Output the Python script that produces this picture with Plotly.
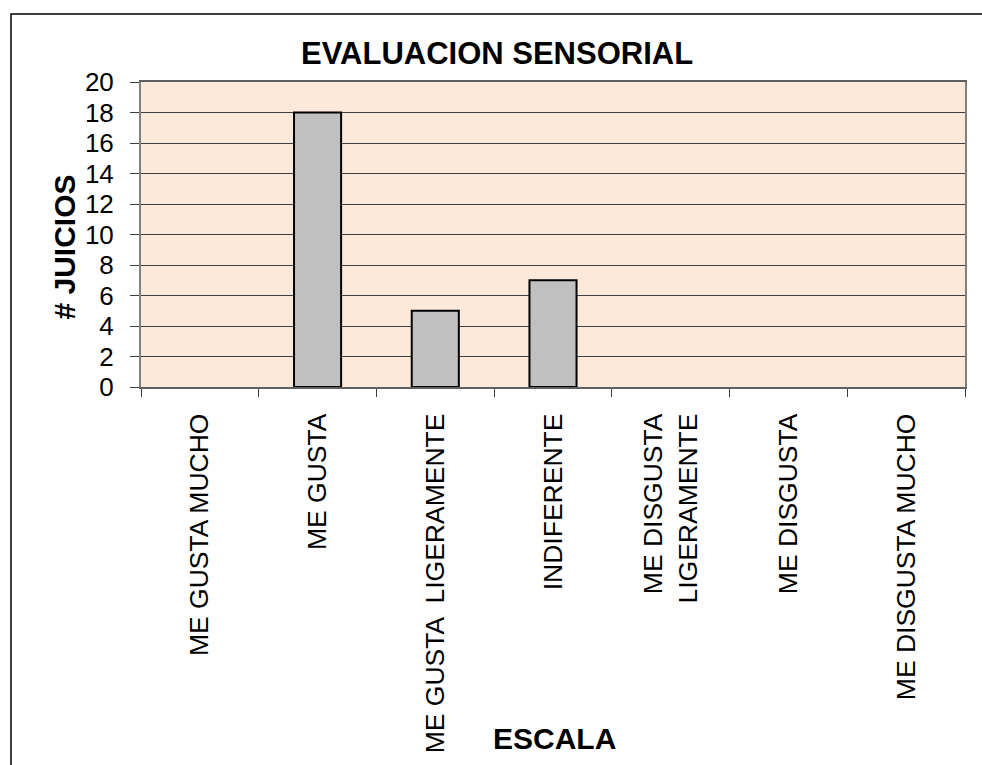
import plotly.graph_objects as go

categories = ["ME GUSTA MUCHO", "ME GUSTA", "ME GUSTA  LIGERAMENTE", "INDIFERENTE",
              "ME DISGUSTA<br>LIGERAMENTE", "ME DISGUSTA", "ME DISGUSTA MUCHO"]
juicios = [0, 18, 5, 7, 0, 0, 0]
y_ticks = [0, 2, 4, 6, 8, 10, 12, 14, 16, 18, 20]

W, H = 982, 765
L, R, T, B = 141, 965, 82, 387
FONT = "Liberation Sans, Arial, sans-serif"


def px(x):
    return (x - L) / (R - L)


def py(y):
    return (B - y) / (B - T)


fig = go.Figure()
fig.add_trace(go.Bar(
    x=categories, y=juicios, width=0.4,
    marker=dict(color="#C0C0C0",
                line=dict(color="#000000",
                          width=[2 if v > 0 else 0 for v in juicios])),
    showlegend=False, hoverinfo="x+y",
))

fig.update_layout(
    width=W, height=H,
    margin=dict(l=L, r=W - R, t=T, b=H - B, autoexpand=False),
    paper_bgcolor="white",
    plot_bgcolor="#FCE9DA",
    font=dict(family=FONT, color="black", size=26),
    xaxis=dict(
        type="category", tickson="boundaries", ticks="outside", ticklen=8,
        tickcolor="#404040", tickwidth=1, tickangle=-90,
        ticklabelstandoff=14, automargin=False,
        tickfont=dict(family=FONT, size=26.5, color="black"),
        showgrid=False, showline=True, linecolor="#606060", linewidth=2,
        mirror=True, zeroline=False,
    ),
    yaxis=dict(
        range=[0, 20], tickvals=y_ticks, ticks="outside", ticklen=9,
        tickcolor="#404040", tickwidth=1, ticklabelstandoff=11,
        automargin=False,
        tickfont=dict(family=FONT, size=26, color="black"),
        showgrid=True, gridcolor="#404040", gridwidth=1,
        showline=True, linecolor="#808080", linewidth=2, mirror=True,
        zeroline=False,
    ),
    annotations=[
        dict(text="<b>EVALUACION SENSORIAL</b>", xref="paper", yref="paper",
             x=px(497), y=py(53), xanchor="center", yanchor="middle",
             showarrow=False, font=dict(family=FONT, size=31, color="black")),
        dict(text="<b># JUICIOS</b>", xref="paper", yref="paper",
             x=px(64.5), y=py(247), xanchor="center", yanchor="middle",
             textangle=-90, showarrow=False,
             font=dict(family=FONT, size=30, color="black")),
        dict(text="<b>ESCALA</b>", xref="paper", yref="paper",
             x=px(554.5), y=py(738), xanchor="center", yanchor="middle",
             showarrow=False, font=dict(family=FONT, size=30, color="black")),
    ],
    shapes=[
        dict(type="rect", xref="paper", yref="paper",
             x0=px(11), x1=px(W + 20), y0=py(H + 20), y1=py(14),
             line=dict(color="black", width=1.5), fillcolor="rgba(0,0,0,0)",
             layer="below"),
    ],
)

fig.write_html(
    "out.html",
    config={"displayModeBar": False},
    post_script="document.body.style.margin='0';document.body.style.overflow='hidden';",
)
